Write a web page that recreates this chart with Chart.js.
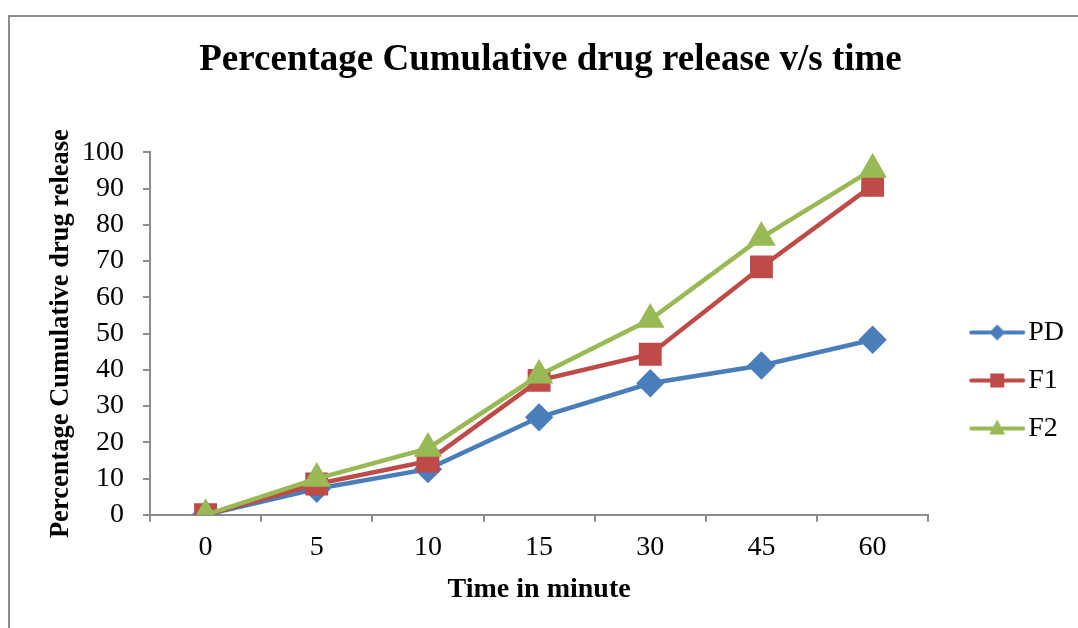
<!DOCTYPE html>
<html>
<head>
<meta charset="utf-8">
<script src="https://cdn.jsdelivr.net/npm/chart.js@4.4.0/dist/chart.umd.min.js"></script>
<style>
    html, body { margin: 0; padding: 0; background: #fff; }
    #wrap { width: 1078px; height: 628px; position: relative; }
</style>
</head>
<body>
<div id="wrap"><canvas id="myChart" width="1078" height="628"></canvas></div>
<script>
// data
var timeLabels = ['0', '5', '10', '15', '30', '45', '60'];
var pdValues = [0, 7.2, 12.6, 26.9, 36.3, 41.2, 48.3];
var f1Values = [0, 8.5, 14.8, 37.1, 44.3, 68.4, 90.9];
var f2Values = [0, 10, 18.3, 38.5, 53.9, 76.5, 95.3];
var yTicks = [0, 10, 20, 30, 40, 50, 60, 70, 80, 90, 100];

var serif = '"Liberation Serif", "Times New Roman", serif';

// little legend picture: line with the marker in the middle
function legendIcon(color, style) {
    var c = document.createElement('canvas');
    c.width = 58; c.height = 24;
    var g = c.getContext('2d');
    g.strokeStyle = color;
    g.lineWidth = 4;
    g.lineCap = 'round';
    g.beginPath();
    g.moveTo(3, 12); g.lineTo(55, 12);
    g.stroke();
    g.fillStyle = color;
    g.beginPath();
    if (style == 'rectRot') {
        g.moveTo(29, 4); g.lineTo(37, 12); g.lineTo(29, 20); g.lineTo(21, 12);
    } else if (style == 'rect') {
        g.rect(22, 5, 14, 14);
    } else {
        g.moveTo(29, 3); g.lineTo(37, 18); g.lineTo(21, 18);
    }
    g.closePath();
    g.fill();
    return c;
}

var frame = {
    id: 'frame',
    beforeDraw: function(chart) {
        var ctx = chart.ctx;
        ctx.save();
        ctx.fillStyle = '#fff';
        ctx.fillRect(0, 0, chart.width, chart.height);
        ctx.strokeStyle = '#8c8c8c';
        ctx.lineWidth = 2;
        ctx.strokeRect(9, 16, 1200, 800);
        ctx.restore();
    }
};

// legend sits lower and further right than chart.js puts it, title a bit right too
var nudge = {
    id: 'nudge',
    afterLayout: function(chart) {
        var lg = chart.legend;
        lg.top += 63;
        lg.bottom += 63;
        lg.left += 32;
        lg.right += 32;
        chart.titleBlock.left += 7;
        chart.titleBlock.right += 7;
    }
};

var ctx = document.getElementById('myChart');
var myChart = new Chart(ctx, {
    type: 'line',
    data: {
        labels: timeLabels,
        datasets: [{
            label: 'PD',
            data: pdValues,
            borderColor: '#4a7ebb',
            backgroundColor: '#4a7ebb',
            borderWidth: 4.5,
            pointStyle: 'rectRot',
            pointRadius: 11,
            order: 3,
            legendIcon: legendIcon('#4a7ebb', 'rectRot')
        }, {
            label: 'F1',
            data: f1Values,
            borderColor: '#be4b48',
            backgroundColor: '#be4b48',
            borderWidth: 4.5,
            pointStyle: 'rect',
            pointRadius: 13,
            order: 2,
            legendIcon: legendIcon('#be4b48', 'rect')
        }, {
            label: 'F2',
            data: f2Values,
            borderColor: '#98b954',
            backgroundColor: '#98b954',
            borderWidth: 4.5,
            pointStyle: 'triangle',
            pointRadius: 12,
            order: 1,
            legendIcon: legendIcon('#98b954', 'triangle')
        }]
    },
    options: {
        responsive: false,
        animation: false,
        layout: { padding: { left: 45, right: 36, top: 28, bottom: 21 } },
        plugins: {
            title: {
                display: true,
                text: 'Percentage Cumulative drug release v/s time',
                color: '#000',
                font: { family: serif, size: 37, weight: 'bold' },
                padding: { top: 10, bottom: 70 }
            },
            legend: {
                position: 'right',
                labels: {
                    usePointStyle: true,
                    pointStyleWidth: 34,
                    color: '#000',
                    font: { family: serif, size: 28 },
                    padding: 20,
                    generateLabels: function(chart) {
                        return chart.data.datasets.map(function(ds, i) {
                            return {
                                text: ds.label,
                                pointStyle: ds.legendIcon,
                                fillStyle: ds.backgroundColor,
                                strokeStyle: ds.borderColor,
                                lineWidth: 0,
                                datasetIndex: i
                            };
                        });
                    }
                }
            },
            tooltip: { enabled: false }
        },
        scales: {
            x: {
                offset: true,
                border: { color: '#8c8c8c', width: 2 },
                grid: { offset: true, drawOnChartArea: false, color: '#8c8c8c', tickLength: 7, lineWidth: 2 },
                ticks: { color: '#000', font: { family: serif, size: 28 }, padding: 9 },
                title: {
                    display: true,
                    text: 'Time in minute',
                    color: '#000',
                    font: { family: serif, size: 28, weight: 'bold' },
                    padding: { top: 0, bottom: 0 }
                }
            },
            y: {
                min: 0,
                max: 100,
                afterBuildTicks: function(axis) {
                    axis.ticks = yTicks.map(function(v) { return { value: v }; });
                },
                afterFit: function(axis) {
                    axis.width = 105;
                },
                border: { color: '#8c8c8c', width: 2 },
                grid: { drawOnChartArea: false, color: '#8c8c8c', tickLength: 7, lineWidth: 2 },
                ticks: { color: '#000', font: { family: serif, size: 28 }, padding: 19, autoSkip: false },
                title: {
                    display: true,
                    text: 'Percentage Cumulative drug release',
                    color: '#000',
                    font: { family: serif, size: 26.5, weight: 'bold' },
                    padding: { top: 0, bottom: 6 }
                }
            }
        }
    },
    plugins: [frame, nudge]
});
</script>
</body>
</html>
